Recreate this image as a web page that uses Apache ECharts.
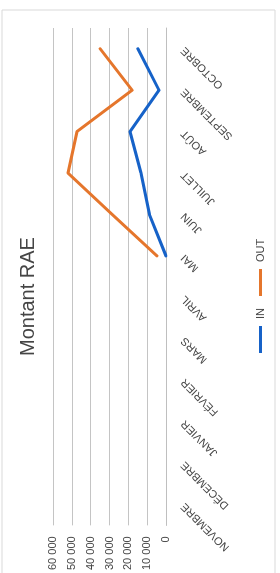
<!DOCTYPE html>
<html>
<head>
<meta charset="utf-8">
<script src="https://cdn.jsdelivr.net/npm/echarts@6/dist/echarts.min.js"></script>
<style>
    html, body { margin: 0; padding: 0; background: #fff; overflow: hidden; }
    #wrap { position: absolute; left: 0; top: 0; width: 280px; height: 573px; overflow: hidden; }
    /* the scan is turned a quarter turn, so the chart is drawn upright then rotated */
    #chart {
        position: absolute; left: 0; top: 0; width: 573px; height: 280px;
        transform-origin: 0 0;
        transform: translate(0, 573px) rotate(-90deg);
    }
</style>
</head>
<body>
<div id="wrap"><div id="chart"></div></div>
<script>
var months = ['NOVEMBRE', 'DÉCEMBRE', 'JANVIER', 'FÉVRIER', 'MARS', 'AVRIL', 'MAI', 'JUIN', 'JUILLET', 'AOÛT', 'SEPTEMBRE', 'OCTOBRE']
var inData = [null, null, null, null, null, null, 0, 8800, 13300, 19100, 3700, 14900]
var outData = [null, null, null, null, null, null, 4800, 28500, 52000, 47300, 18000, 35000]
var valueMax = 60000
var valueStep = 10000

var grey = '#454545'
var myChart = echarts.init(document.getElementById('chart'), null, { renderer: 'canvas' })

var option = {
    animation: false,
    textStyle: { fontFamily: 'Liberation Sans, Arial, sans-serif' },
    graphic: [
        {
            // cadre du graphique
            type: 'rect',
            shape: { x: -20, y: 2, width: 583, height: 273 },
            style: { fill: 'none', stroke: '#d9d9d9', lineWidth: 1 },
            silent: true,
        },
    ],
    title: {
        text: 'Montant RAE',
        left: 212,
        top: 13,
        textStyle: {
            fontWeight: 'normal',
            fontSize: 20,
            color: grey,
        },
    },
    legend: {
        icon: 'rect',
        itemWidth: 27,
        itemHeight: 3,
        itemGap: 12,
        left: 215,
        top: 250,
        textStyle: { fontSize: 11, color: grey, padding: [0, 0, 0, 2] },
        data: ['IN', 'OUT'],
    },
    grid: {
        left: 41,
        right: 28,
        top: 53,
        bottom: 114,
        containLabel: false,
    },
    xAxis: {
        type: 'category',
        boundaryGap: true,
        data: months,
        axisTick: { show: false },
        axisLine: { lineStyle: { color: '#bfbfbf', width: 1 } },
        axisLabel: {
            rotate: 45,
            interval: 0,
            margin: 17,
            fontSize: 11,
            color: grey,
        },
    },
    yAxis: {
        type: 'value',
        min: 0,
        max: valueMax,
        interval: valueStep,
        axisLine: { show: false },
        axisTick: { show: false },
        axisLabel: {
            margin: 11,
            fontSize: 11,
            color: grey,
            formatter: function (v) {
                return v === 0 ? '0' : String(v).replace(/\B(?=(\d{3})+(?!\d))/g, ' ')
            },
        },
        splitLine: { lineStyle: { color: '#c4c4c4', width: 1 } },
    },
    series: [
        {
            name: 'IN',
            type: 'line',
            data: inData,
            showSymbol: false,
            symbol: 'none',
            lineStyle: { color: '#1662c8', width: 3, cap: 'round', join: 'round' },
            itemStyle: { color: '#1662c8' },
        },
        {
            name: 'OUT',
            type: 'line',
            data: outData,
            showSymbol: false,
            symbol: 'none',
            lineStyle: { color: '#e5762c', width: 3, cap: 'round', join: 'round' },
            itemStyle: { color: '#e5762c' },
        },
    ],
}
myChart.setOption(option)
</script>
</body>
</html>
